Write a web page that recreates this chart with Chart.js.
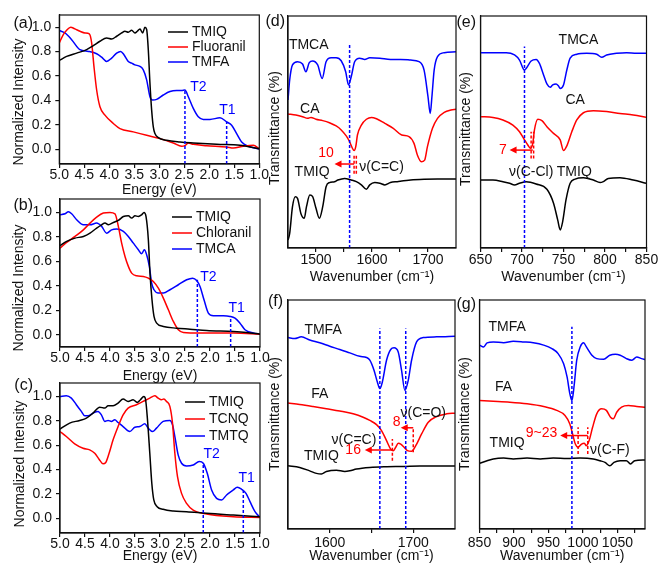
<!DOCTYPE html>
<html>
<head>
<meta charset="utf-8">
<script src="https://cdn.jsdelivr.net/npm/chart.js@4.4.1/dist/chart.umd.min.js"></script>
<style>
  html, body { margin: 0; padding: 0; background: #fff; }
  #fig { position: relative; width: 660px; height: 565px; }
  #fig canvas { position: absolute; left: 0; top: 0; }
</style>
</head>
<body>
<div id="fig"></div>
<script>
const FONT = "'Liberation Sans', Arial, Helvetica, sans-serif";
const INK = "#111111";
const RED = "#ff0000";
const BLUE = "#0000ff";

// ---- tick values ----
const energyTicks = [5.0, 4.5, 4.0, 3.5, 3.0, 2.5, 2.0, 1.5, 1.0];
const intensityTicks = [0, 0.2, 0.4, 0.6, 0.8, 1.0];
const dTicks = [1500, 1550, 1600, 1650, 1700];
const dLabels = [1500, 1600, 1700];
const eTicks = [650, 675, 700, 725, 750, 775, 800, 825, 850];
const eLabels = [650, 700, 750, 800, 850];
const fTicks = [1600, 1650, 1700];
const fLabels = [1600, 1700];
const gTicks = [850, 875, 900, 925, 950, 975, 1000, 1025, 1050, 1075];
const gLabels = [850, 900, 950, 1000, 1050];

// ---- (a) absorption, energy (eV) vs normalized intensity ----
const aTMIQ = [[5.0,0.728],[4.853,0.761],[4.653,0.788],[4.453,0.816],[4.32,0.849],[4.187,0.885],[4.053,0.912],[3.953,0.904],[3.853,0.926],[3.753,0.953],[3.687,0.967],[3.62,0.959],[3.553,0.975],[3.487,0.953],[3.44,0.967],[3.387,0.986],[3.333,0.953],[3.287,1.0],[3.253,0.981],[3.22,0.816],[3.187,0.541],[3.153,0.321],[3.12,0.184],[3.087,0.129],[3.02,0.096],[2.853,0.074],[2.587,0.06],[2.32,0.052],[1.853,0.041],[1.387,0.033],[1.0,0.005]];
const aFluoranil = [[5.0,0.871],[4.92,0.94],[4.853,0.975],[4.773,1.0],[4.687,0.986],[4.587,0.967],[4.487,0.953],[4.4,0.945],[4.353,0.871],[4.307,0.679],[4.253,0.486],[4.187,0.349],[4.087,0.28],[3.92,0.212],[3.787,0.17],[3.52,0.143],[3.253,0.115],[2.987,0.088],[2.72,0.052],[2.553,0.025],[2.48,0.033],[2.42,0.052],[2.32,0.041],[2.053,0.03],[1.653,0.019],[1.52,0.011],[1.32,0.025],[1.12,0.033],[1.0,0.005]];
const aTMFA = [[5.0,0.973],[4.887,0.953],[4.753,0.898],[4.587,0.816],[4.42,0.802],[4.253,0.783],[4.153,0.755],[4.053,0.72],[3.953,0.747],[3.853,0.788],[3.773,0.802],[3.707,0.775],[3.62,0.72],[3.553,0.706],[3.487,0.692],[3.387,0.679],[3.32,0.651],[3.253,0.569],[3.187,0.431],[3.133,0.404],[3.053,0.409],[2.92,0.445],[2.787,0.473],[2.653,0.481],[2.553,0.481],[2.487,0.486],[2.42,0.431],[2.32,0.335],[2.22,0.266],[2.12,0.245],[1.987,0.245],[1.787,0.258],[1.653,0.225],[1.553,0.198],[1.453,0.129],[1.353,0.06],[1.22,0.025],[1.0,0.003]];
const aMarkers = [[2.487, 0.48], [1.653, 0.225]];
const aMarkerText = [["T2", 2.22, 0.51], ["T1", 1.64, 0.32]];

// ---- (b) ----
const bTMIQ = [[5.0,0.728],[4.867,0.763],[4.7,0.79],[4.533,0.804],[4.4,0.831],[4.267,0.872],[4.167,0.899],[4.1,0.913],[4.033,0.899],[3.933,0.918],[3.833,0.935],[3.733,0.967],[3.633,0.973],[3.567,0.954],[3.5,0.973],[3.433,0.967],[3.367,0.981],[3.32,1.0],[3.28,0.967],[3.233,0.777],[3.2,0.504],[3.16,0.286],[3.12,0.15],[3.067,0.095],[2.933,0.068],[2.667,0.054],[2.4,0.046],[2.067,0.035],[1.533,0.027],[1.267,0.019],[1.0,0.005]];
const bChloranil = [[5.0,0.708],[4.867,0.755],[4.7,0.804],[4.533,0.858],[4.4,0.913],[4.267,0.962],[4.133,0.995],[4.0,1.0],[3.9,0.989],[3.833,0.886],[3.767,0.749],[3.7,0.64],[3.633,0.559],[3.567,0.504],[3.467,0.482],[3.333,0.477],[3.233,0.463],[3.133,0.436],[3.033,0.381],[2.933,0.3],[2.833,0.204],[2.733,0.109],[2.633,0.041],[2.533,0.019],[2.2,0.014],[1.533,0.014],[1.0,0.005]];
const bTMCA = [[5.0,0.981],[4.9,0.989],[4.833,1.005],[4.767,0.989],[4.667,0.94],[4.533,0.899],[4.4,0.899],[4.267,0.913],[4.167,0.886],[4.067,0.831],[3.967,0.858],[3.867,0.864],[3.733,0.845],[3.633,0.804],[3.533,0.749],[3.433,0.695],[3.367,0.662],[3.313,0.695],[3.267,0.654],[3.213,0.559],[3.167,0.422],[3.12,0.368],[3.033,0.341],[2.933,0.341],[2.8,0.368],[2.633,0.409],[2.467,0.45],[2.347,0.463],[2.267,0.444],[2.2,0.395],[2.12,0.286],[2.033,0.177],[1.933,0.155],[1.733,0.155],[1.6,0.15],[1.5,0.136],[1.4,0.095],[1.3,0.041],[1.133,0.014],[1.0,0.005]];
const bMarkers = [[2.253, 0.45], [1.587, 0.15]];
const bMarkerText = [["T2", 2.033, 0.471], ["T1", 1.467, 0.218]];

// ---- (c) ----
const cTMIQ = [[5.0,0.732],[4.806,0.781],[4.606,0.803],[4.472,0.822],[4.339,0.863],[4.205,0.912],[4.105,0.904],[4.038,0.923],[3.938,0.923],[3.838,0.945],[3.738,0.978],[3.638,0.959],[3.538,0.973],[3.457,0.951],[3.391,0.973],[3.324,1.0],[3.29,0.978],[3.25,0.808],[3.204,0.534],[3.164,0.288],[3.124,0.151],[3.057,0.096],[2.937,0.074],[2.736,0.06],[2.469,0.055],[2.068,0.041],[1.534,0.027],[1.0,0.014]];
const cTCNQ = [[5.0,0.712],[4.873,0.671],[4.706,0.611],[4.539,0.575],[4.406,0.562],[4.305,0.534],[4.219,0.485],[4.139,0.447],[4.085,0.458],[4.018,0.534],[3.938,0.644],[3.838,0.753],[3.738,0.849],[3.638,0.904],[3.471,0.932],[3.338,0.959],[3.204,0.986],[3.104,1.005],[3.037,0.986],[2.97,0.973],[2.923,0.978],[2.87,0.959],[2.803,0.918],[2.75,0.781],[2.703,0.534],[2.65,0.342],[2.569,0.205],[2.469,0.123],[2.336,0.068],[2.068,0.036],[1.534,0.014],[1.0,0.008]];
const cTMTQ = [[5.0,1.0],[4.873,1.005],[4.773,0.986],[4.673,0.932],[4.573,0.877],[4.506,0.841],[4.439,0.841],[4.339,0.863],[4.239,0.877],[4.172,0.849],[4.105,0.795],[4.038,0.803],[3.972,0.795],[3.905,0.808],[3.838,0.786],[3.738,0.753],[3.604,0.712],[3.504,0.747],[3.404,0.753],[3.304,0.775],[3.237,0.74],[3.15,0.712],[3.07,0.74],[2.937,0.795],[2.803,0.803],[2.75,0.767],[2.703,0.671],[2.637,0.521],[2.569,0.452],[2.469,0.43],[2.336,0.438],[2.215,0.466],[2.135,0.452],[2.055,0.37],[1.968,0.233],[1.868,0.164],[1.768,0.151],[1.668,0.192],[1.534,0.233],[1.454,0.255],[1.367,0.238],[1.28,0.205],[1.2,0.137],[1.1,0.055],[1.0,0.008]];
const cMarkers = [[2.135, 0.45], [1.334, 0.23]];
const cMarkerText = [["T2", 1.968, 0.529], ["T1", 1.267, 0.329]];

// ---- (d) IR, wavenumber vs transmittance (% of panel height, offset traces) ----
const dTMCA = [[1450,63.8],[1453,72.4],[1458,78.9],[1467,80.3],[1476,79.3],[1482,76.0],[1488,79.9],[1494,80.6],[1503,78.9],[1511,73.1],[1518,80.3],[1527,82.0],[1536,82.0],[1545,80.7],[1553,76.0],[1558,70.3],[1563,73.9],[1569,80.3],[1578,81.8],[1587,81.3],[1596,82.0],[1614,81.8],[1633,81.3],[1651,81.3],[1669,81.0],[1684,80.3],[1693,76.7],[1700,65.2],[1704,58.0],[1707,65.2],[1711,76.7],[1717,82.5],[1729,84.2],[1750,84.6]];
const dCA = [[1450,57.8],[1464,57.3],[1476,56.6],[1485,55.9],[1491,56.3],[1500,55.5],[1512,54.9],[1524,54.0],[1536,52.6],[1545,50.9],[1554,48.3],[1560,45.8],[1565,43.0],[1568,42.0],[1571,43.7],[1574,48.7],[1581,53.0],[1590,55.5],[1599,56.3],[1608,55.7],[1623,53.7],[1638,51.6],[1653,48.7],[1666,48.0],[1675,45.1],[1681,40.1],[1688,37.2],[1694,37.9],[1699,43.7],[1708,51.6],[1717,55.9],[1729,58.5],[1741,59.5],[1750,59.8]];
const dTMIQ = [[1450,3.4],[1453,6.3],[1458,17.8],[1463,22.1],[1467,21.4],[1473,14.9],[1479,12.8],[1483,17.8],[1489,22.8],[1494,22.1],[1500,17.1],[1506,12.8],[1512,17.8],[1518,26.4],[1524,28.2],[1533,28.6],[1539,29.3],[1551,30.0],[1563,29.3],[1572,28.6],[1581,27.2],[1590,25.3],[1596,27.2],[1605,28.2],[1614,27.9],[1623,27.2],[1633,28.2],[1645,28.6],[1669,29.3],[1693,29.6],[1717,29.7],[1750,29.7]];

// ---- (e) ----
const eTMCA = [[650,84.2],[665,84.2],[681,84.2],[691,83.2],[697,81.0],[703,76.7],[705,77.4],[711,80.6],[717,81.3],[721,79.6],[726,74.6],[730,70.7],[734,69.3],[737,70.3],[741,70.7],[744,69.8],[746,68.8],[750,70.3],[754,76.7],[758,81.8],[766,83.5],[778,83.9],[790,83.5],[796,82.2],[802,83.2],[814,83.9],[826,84.2],[838,83.9],[850,83.9]];
const eCA = [[650,56.6],[665,56.3],[677,55.2],[689,53.0],[697,50.1],[703,46.6],[707,44.4],[710,43.0],[713,45.1],[715,50.9],[719,55.5],[724,54.9],[730,52.3],[738,49.4],[746,46.6],[750,42.0],[754,44.0],[760,50.1],[766,55.2],[774,58.3],[786,59.2],[802,58.8],[818,58.0],[834,57.3],[850,56.3]];
const eTMIQ = [[650,29.3],[665,29.3],[677,28.6],[685,27.9],[691,27.2],[697,27.9],[705,28.6],[717,27.6],[730,25.3],[738,19.3],[743,12.1],[746,7.8],[749,11.4],[753,20.7],[758,27.9],[764,29.7],[774,30.3],[786,29.3],[794,28.2],[798,28.6],[804,30.0],[818,30.3],[834,29.3],[850,27.9]];

// ---- (f) ----
const fTMFA = [[1550,83.6],[1558,83.2],[1566,83.9],[1576,82.5],[1588,81.3],[1600,79.8],[1612,78.4],[1624,76.9],[1636,75.4],[1644,74.9],[1648,73.7],[1653,69.3],[1657,64.2],[1660,61.3],[1663,64.2],[1668,73.7],[1673,78.4],[1677,79.1],[1682,77.3],[1686,69.3],[1690,60.5],[1694,64.9],[1698,73.7],[1704,81.7],[1712,83.6],[1728,83.9],[1750,84.2]];
const fFA = [[1550,55.0],[1564,54.4],[1580,53.5],[1596,52.5],[1612,51.5],[1628,50.3],[1640,48.8],[1648,47.4],[1656,45.6],[1662,43.0],[1668,38.6],[1673,34.9],[1676,34.2],[1679,35.7],[1682,37.4],[1685,37.1],[1689,35.7],[1693,34.2],[1698,33.9],[1703,36.4],[1710,41.5],[1718,46.6],[1728,49.1],[1740,50.3],[1750,50.6]];
const fTMIQ = [[1550,27.6],[1564,26.9],[1576,25.4],[1584,24.3],[1590,24.0],[1596,25.1],[1608,25.7],[1618,25.1],[1624,25.4],[1632,26.2],[1648,26.9],[1668,27.2],[1688,27.3],[1708,27.5],[1750,27.5]];

// ---- (g) ----
const gTMFA = [[850,80.3],[856,79.5],[861,81.3],[870,81.7],[885,81.3],[899,82.0],[914,81.7],[928,81.3],[943,80.3],[955,78.8],[964,76.6],[972,72.2],[977,66.4],[981,59.1],[984,56.1],[987,62.0],[991,73.7],[996,79.5],[1001,81.3],[1005,79.5],[1013,75.9],[1020,74.4],[1030,74.1],[1039,75.9],[1047,76.3],[1054,75.9],[1063,74.4],[1071,73.7],[1078,75.1],[1085,74.4],[1090,74.0]];
const gFA = [[850,56.1],[870,55.8],[894,55.4],[919,54.7],[943,53.5],[962,51.8],[974,49.6],[981,45.9],[985,41.5],[989,37.1],[993,35.7],[998,37.1],[1002,37.4],[1005,36.4],[1009,38.6],[1014,44.4],[1020,50.3],[1027,52.5],[1034,51.8],[1040,48.8],[1044,48.1],[1049,51.0],[1056,53.2],[1066,53.9],[1078,53.5],[1090,53.2]];
const gTMIQ = [[850,28.7],[861,29.8],[870,30.6],[885,31.0],[899,30.6],[919,31.0],[938,30.6],[957,31.0],[977,30.8],[996,31.0],[1015,30.6],[1025,29.8],[1032,29.1],[1039,27.6],[1045,29.1],[1054,29.8],[1063,29.8],[1069,28.4],[1075,29.8],[1090,30.1]];

function series(points, color) {
  return {
    data: points.map((p) => ({ x: p[0], y: p[1] })),
    borderColor: color,
    backgroundColor: color,
    borderWidth: 1.5,
    showLine: true,
    pointRadius: 0,
    cubicInterpolationMode: "monotone",
  };
}

function markerLines(markers, yMin) {
  return markers.map((m) => [m[0], yMin, m[1], BLUE]);
}

function markerTexts(list) {
  return list.map((t) => [t[0], t[1], t[2], BLUE]);
}

function makeDecor(p) {
  return {
    id: "decor",
    afterDatasetsDraw(chart) {
      const ctx = chart.ctx;
      const a = chart.chartArea;
      const sx = chart.scales.x;
      const sy = chart.scales.y;
      const X = (v) => sx.getPixelForValue(v);
      const Y = (v) => sy.getPixelForValue(v);
      ctx.save();

      // dashed guide lines
      ctx.lineWidth = 1.5;
      ctx.setLineDash([3, 2]);
      (p.vlines || []).forEach(([x, y0, y1, c]) => {
        ctx.strokeStyle = c;
        ctx.beginPath();
        ctx.moveTo(X(x), Y(y0));
        ctx.lineTo(X(x), Y(y1));
        ctx.stroke();
      });
      ctx.setLineDash([]);

      // shift arrows (pointing to lower wavenumber)
      (p.arrows || []).forEach(([x0, x1, y]) => {
        const px0 = X(x0), px1 = X(x1), py = Y(y);
        ctx.strokeStyle = RED;
        ctx.fillStyle = RED;
        ctx.lineWidth = 1.5;
        ctx.beginPath();
        ctx.moveTo(px0, py);
        ctx.lineTo(px1 + 5, py);
        ctx.stroke();
        ctx.beginPath();
        ctx.moveTo(px1, py);
        ctx.lineTo(px1 + 7, py - 3.5);
        ctx.lineTo(px1 + 7, py + 3.5);
        ctx.closePath();
        ctx.fill();
      });

      // in-plot labels
      ctx.textAlign = "center";
      ctx.textBaseline = "middle";
      (p.texts || []).forEach(([t, x, y, c]) => {
        ctx.fillStyle = c || INK;
        ctx.font = `14px ${FONT}`;
        ctx.fillText(t, X(x), Y(y));
      });

      // frame
      ctx.strokeStyle = INK;
      ctx.lineWidth = 1.2;
      ctx.strokeRect(a.left, a.top, a.right - a.left, a.bottom - a.top);

      // legend
      if (p.legend) {
        const L = p.legend;
        ctx.font = `14px ${FONT}`;
        ctx.textAlign = "left";
        L.items.forEach(([label, color], i) => {
          const yy = L.y + i * L.dy;
          ctx.strokeStyle = color;
          ctx.lineWidth = 1.5;
          ctx.beginPath();
          ctx.moveTo(L.x, yy);
          ctx.lineTo(L.x + 20, yy);
          ctx.stroke();
          ctx.fillStyle = INK;
          ctx.fillText(label, L.x + 24, yy + 0.5);
        });
      }

      // panel tag
      ctx.font = `16px ${FONT}`;
      ctx.textAlign = "right";
      ctx.fillStyle = INK;
      ctx.fillText(p.tag[0], p.tag[1], p.tag[2]);

      // y axis title
      ctx.font = `14px ${FONT}`;
      ctx.textAlign = "center";
      ctx.translate(p.yTitle[1], p.yTitle[2]);
      ctx.rotate(-Math.PI / 2);
      ctx.fillText(p.yTitle[0], 0, 0);

      ctx.restore();
    },
  };
}

function makePanel(p) {
  const canvas = document.createElement("canvas");
  canvas.width = 660;
  canvas.height = 565;
  document.getElementById("fig").appendChild(canvas);

  const titleLH = 16.8;
  const axisBottom = p.xTitleY + titleLH / 2;
  const yAxisW = 40;
  const [x0, x1, y0, y1] = p.box;
  const ir = !p.yTicks;

  return new Chart(canvas, {
    type: "scatter",
    data: { datasets: p.series },
    options: {
      responsive: false,
      animation: false,
      events: [],
      layout: {
        padding: { left: x0 - yAxisW, right: 660 - x1, top: y0, bottom: 565 - axisBottom },
      },
      plugins: { legend: { display: false }, tooltip: { enabled: false } },
      scales: {
        x: {
          type: "linear",
          min: p.xRange[0],
          max: p.xRange[1],
          reverse: !!p.reverse,
          border: { display: true, color: INK, width: 1.2 },
          grid: { display: true, drawOnChartArea: false, drawTicks: true, tickLength: 4, color: INK, lineWidth: 1.2 },
          ticks: {
            autoSkip: false,
            maxRotation: 0,
            padding: p.xTickPad,
            color: INK,
            font: { family: FONT, size: 14, lineHeight: 1 },
            callback: p.xLabel,
          },
          afterBuildTicks: (s) => { s.ticks = p.xTicks.map((v) => ({ value: v })); },
          title: { display: true, text: p.xTitle, color: INK, padding: 0, font: { family: FONT, size: 14, lineHeight: 1.2 } },
          afterFit: (s) => { s.height = axisBottom - y1; s.paddingLeft = 0; s.paddingRight = 0; },
        },
        y: {
          type: "linear",
          min: p.yRange[0],
          max: p.yRange[1],
          border: { display: true, color: INK, width: 1.2 },
          grid: { display: !ir, drawOnChartArea: false, drawTicks: true, tickLength: 4, color: INK, lineWidth: 1.2 },
          ticks: {
            display: !ir,
            padding: 4,
            color: INK,
            font: { family: FONT, size: 14, lineHeight: 1 },
            callback: (v) => v.toFixed(1),
          },
          afterBuildTicks: (s) => { if (!ir) s.ticks = p.yTicks.map((v) => ({ value: v })); },
          title: { display: false },
          afterFit: (s) => { s.width = yAxisW; s.paddingTop = 0; s.paddingBottom = 0; },
        },
      },
    },
    plugins: [makeDecor(p)],
  });
}

const energyLabel = (v) => v.toFixed(1);
const pick = (labels) => (v) => (labels.includes(v) ? String(v) : "");

makePanel({
  box: [59.3, 259.3, 15, 164], xRange: [1, 5], reverse: true, yRange: [-0.12, 1.1],
  xTicks: energyTicks, xLabel: energyLabel, xTickPad: 0, xTitle: "Energy (eV)", xTitleY: 190,
  yTicks: intensityTicks, yTitle: ["Normalized Intensity", 19, 102], tag: ["(a)", 33, 24],
  series: [series(aTMIQ, "#000"), series(aFluoranil, RED), series(aTMFA, BLUE)],
  legend: { x: 168, y: 32, dy: 15, items: [["TMIQ", "#000"], ["Fluoranil", RED], ["TMFA", BLUE]] },
  vlines: markerLines(aMarkers, -0.12), texts: markerTexts(aMarkerText),
});

makePanel({
  box: [60, 260, 199, 347], xRange: [1, 5], reverse: true, yRange: [-0.1, 1.11],
  xTicks: energyTicks, xLabel: energyLabel, xTickPad: 0, xTitle: "Energy (eV)", xTitleY: 376,
  yTicks: intensityTicks, yTitle: ["Normalized Intensity", 19, 288], tag: ["(b)", 33, 206],
  series: [series(bTMIQ, "#000"), series(bChloranil, RED), series(bTMCA, BLUE)],
  legend: { x: 172, y: 217, dy: 16, items: [["TMIQ", "#000"], ["Chloranil", RED], ["TMCA", BLUE]] },
  vlines: markerLines(bMarkers, -0.1), texts: markerTexts(bMarkerText),
});

makePanel({
  box: [60, 260, 383, 533], xRange: [1, 5], reverse: true, yRange: [-0.12, 1.11],
  xTicks: energyTicks, xLabel: energyLabel, xTickPad: 0, xTitle: "Energy (eV)", xTitleY: 556,
  yTicks: intensityTicks, yTitle: ["Normalized Intensity", 20, 464], tag: ["(c)", 33, 386],
  series: [series(cTMIQ, "#000"), series(cTCNQ, RED), series(cTMTQ, BLUE)],
  legend: { x: 185, y: 402, dy: 17, items: [["TMIQ", "#000"], ["TCNQ", RED], ["TMTQ", BLUE]] },
  vlines: markerLines(cMarkers, -0.12), texts: markerTexts(cMarkerText),
});

makePanel({
  box: [288, 456, 16, 248], xRange: [1450, 1750], yRange: [0, 100],
  xTicks: dTicks, xLabel: pick(dLabels), xTickPad: 1, xTitle: "Wavenumber (cm⁻¹)", xTitleY: 277,
  yTitle: ["Transmittance (%)", 275, 128], tag: ["(d)", 285, 22],
  series: [series(dTMCA, BLUE), series(dCA, RED), series(dTMIQ, "#000")],
  vlines: [[1560, 0, 87.5, BLUE], [1568, 32, 40, RED], [1572, 32, 40, RED]],
  arrows: [[1568, 1533, 36.2]],
  texts: [["TMCA", 1487, 87.5], ["CA", 1489, 60], ["TMIQ", 1493, 32.9], ["10", 1518, 40.8, RED], ["ν(C=C)", 1617, 34.8]],
});

makePanel({
  box: [480.5, 646.5, 16, 248], xRange: [650, 850], yRange: [0, 100],
  xTicks: eTicks, xLabel: pick(eLabels), xTickPad: 1, xTitle: "Wavenumber (cm⁻¹)", xTitleY: 277,
  yTitle: ["Transmittance (%)", 466, 129], tag: ["(e)", 476, 23],
  series: [series(eTMCA, BLUE), series(eCA, RED), series(eTMIQ, "#000")],
  vlines: [[703, 0, 86.8, BLUE], [711, 38.6, 50.1, RED], [714, 38.6, 50.1, RED]],
  arrows: [[713, 685, 42.2]],
  texts: [["TMCA", 768, 89.4], ["CA", 764, 63.8], ["TMIQ", 763, 32.9], ["7", 677, 42.2, RED], ["ν(C-Cl)", 711, 32.9]],
});

makePanel({
  box: [288, 455, 300, 529], xRange: [1550, 1750], yRange: [0, 100],
  xTicks: fTicks, xLabel: pick(fLabels), xTickPad: 3, xTitle: "Wavenumber (cm⁻¹)", xTitleY: 556,
  yTitle: ["Transmittance (%)", 275, 414], tag: ["(f)", 283, 302],
  series: [series(fTMFA, BLUE), series(fFA, RED), series(fTMIQ, "#000")],
  vlines: [[1660, 0, 87.6, BLUE], [1691, 0, 87.6, BLUE], [1675, 29.8, 39.3, RED], [1700, 33.5, 44.4, RED]],
  arrows: [[1675, 1642, 34.5], [1700, 1685, 44.2]],
  texts: [["TMFA", 1592, 86.8], ["FA", 1588, 59.1], ["TMIQ", 1590, 32.0], ["16", 1628, 34.3, RED], ["8", 1680, 46.8, RED], ["ν(C=C)", 1629, 38.8], ["ν(C=O)", 1712, 50.5]],
});

makePanel({
  box: [479.5, 645, 300, 529], xRange: [850, 1090], yRange: [0, 100],
  xTicks: gTicks, xLabel: pick(gLabels), xTickPad: 3, xTitle: "Wavenumber (cm⁻¹)", xTitleY: 556,
  yTitle: ["Transmittance (%)", 465, 414], tag: ["(g)", 476, 305],
  series: [series(gTMFA, BLUE), series(gFA, RED), series(gTMIQ, "#000")],
  vlines: [[984, 0, 88.3, BLUE], [993, 32.7, 44.4, RED], [1007, 32.7, 44.4, RED]],
  arrows: [[1007, 967, 40.8]],
  texts: [["TMFA", 890, 88], ["FA", 885, 62], ["TMIQ", 890, 37.6], ["9~23", 940, 42, RED], ["ν(C-F)", 1039, 34.6]],
});
</script>
</body>
</html>
